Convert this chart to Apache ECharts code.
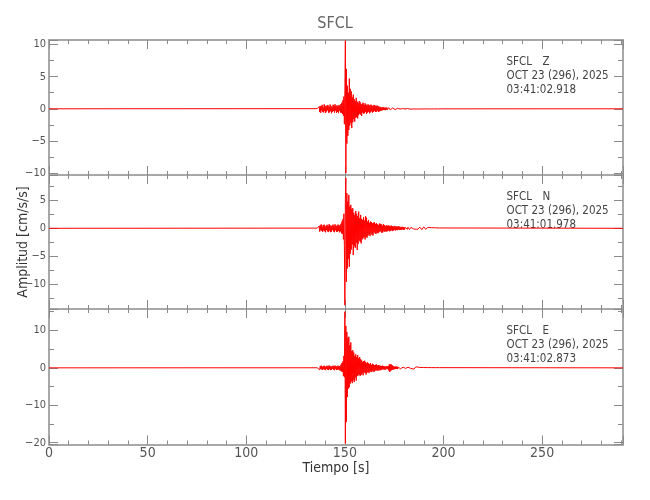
<!DOCTYPE html>
<html><head><meta charset="utf-8">
<script src="https://cdn.jsdelivr.net/npm/echarts@6/dist/echarts.min.js"></script>
<style>html,body{margin:0;padding:0;background:#fff}#c{width:650px;height:500px}</style>
</head><body><div id="c"></div>
<script>
// ---- chart text ----
const titleText = 'SFCL';
const xName = 'Tiempo [s]';
const yName = 'Amplitud [cm/s/s]';
const station = 'SFCL';
const channels = ['Z', 'N', 'E'];
const dateLabel = 'OCT 23 (296), 2025';
const startTimes = ['03:41:02.918', '03:41:01.978', '03:41:02.873'];

// ---- axes ----
const xRange = [0, 291];
const xTickStep = 50;
const yRanges = [[-10.3, 10.7], [-14.48, 9.56], [-20.48, 15.72]];
const yTickSteps = [5, 5, 10];

// ---- sampled traces ----
// event window: starts at t0, one sample every dt seconds
const t0 = 136.0, dt = 0.25;
// late coda: starts at tailT0, one sample every tailDt seconds
const tailT0 = 184.0, tailDt = 1.0;
const quietStart = 0, quietEnd = 291;

const zValues = [
 0.02,-0.04,0.05,-0.12,0.34,-0.51,0.45,-0.63,
 0.38,-0.27,0.61,-0.49,0.22,-0.58,0.69,-0.36,
 0.47,-0.66,0.31,-0.42,0.58,-0.24,0.52,-0.61,
 0.29,-0.55,0.67,-0.38,0.44,-0.7,0.26,-0.47,
 0.63,-0.33,0.5,-0.59,0.71,-0.28,0.4,-0.64,
 0.55,-0.45,0.36,-0.68,0.6,-0.3,0.48,-0.57,
 0.74,-0.62,0.95,-0.8,1.3,-1.1,1.9,-2.4,
 2.8,10.6,-10.0,6.2,-5.4,3.6,-4.2,2.5,
 -3.3,4.7,-2.6,3.1,-2.2,2.7,-3.0,1.8,
 -2.1,2.2,-1.6,1.5,-2.0,1.2,-1.4,1.7,
 -1.3,1.1,-1.5,0.9,-1.0,1.2,-0.8,1.0,
 -0.9,0.7,-1.1,0.8,-0.6,0.95,-0.75,0.6,
 -0.7,0.85,-0.5,0.65,-0.8,0.55,-0.6,0.7,
 -0.45,0.6,-0.7,0.5,-0.55,0.65,-0.4,0.5,
 -0.6,0.45,-0.5,0.6,-0.35,0.55,-0.5,0.4,
 -0.45,0.5,-0.3,0.45,-0.5,0.35,-0.4,0.3,
 -0.3,0.25,-0.28,0.2,-0.24,0.27,-0.18,0.22,
 -0.2,0.16,-0.22,0.19,-0.14,0.2,-0.17,0.13,
 -0.15,0.18,-0.12,0.14,-0.16,0.1,-0.13,0.15,
 -0.11,0.13,-0.09,0.12,-0.1,0.08,-0.12,0.09,
 -0.08,0.1,-0.07,0.09,-0.06,0.08,-0.09,0.07,
 -0.06,0.08,-0.05,0.07,-0.07,0.05,-0.06,0.06,
 -0.05,0.06,-0.04,0.05,-0.06,0.04,-0.05,0.05,
 -0.04,0.05,-0.03,0.04,-0.05,0.03,-0.04,0.03
];
const zTail = [0.04,-0.03,0.03,-0.04,0.02,-0.03,0.03,-0.02,0.02,-0.03,0.02,-0.02,0.01,-0.02,0.02,-0.01];

const nValues = [
 0.03,-0.05,0.06,-0.15,0.41,-0.6,0.52,-0.34,
 0.7,-0.45,0.28,-0.66,0.59,-0.38,0.65,-0.53,
 0.31,-0.72,0.48,-0.27,0.63,-0.57,0.42,-0.68,
 0.74,-0.4,0.55,-0.69,0.36,-0.61,0.5,-0.3,
 0.66,-0.58,0.45,-0.7,0.72,-0.35,0.52,-0.64,
 0.38,-0.6,0.68,-0.46,0.57,-0.72,0.44,-0.55,
 0.8,-0.9,1.2,-1.0,1.6,-2.0,2.6,-3.1,
 -13.8,5.2,9.0,-9.6,6.3,-7.2,4.8,-5.5,
 6.0,-6.9,3.9,-4.6,4.2,-3.8,3.5,-2.9,
 3.6,-4.8,2.8,-3.2,2.4,-3.5,3.1,-2.6,
 2.6,-3.9,2.2,-2.8,3.0,-2.2,1.8,-2.4,
 2.4,-2.7,1.7,-2.0,1.5,-1.8,2.0,-1.6,
 1.4,-2.0,2.2,-1.5,1.9,-1.7,1.2,-1.3,
 1.5,-1.1,1.0,-1.4,1.2,-0.9,1.1,-1.2,
 0.9,-1.3,1.0,-0.7,1.1,-0.9,0.8,-1.0,
 0.95,-0.8,0.7,-0.9,0.6,-0.75,0.85,-0.6,
 0.8,-0.55,0.7,-0.85,0.45,-0.7,0.75,-0.5,
 0.6,-0.65,0.4,-0.5,0.55,-0.6,0.45,-0.5,
 0.5,-0.4,0.45,-0.55,0.35,-0.45,0.5,-0.35,
 0.4,-0.5,0.3,-0.38,0.42,-0.3,0.36,-0.4,
 0.35,-0.3,0.27,-0.33,0.38,-0.22,0.32,-0.28,
 0.27,-0.3,0.18,-0.26,0.28,-0.2,0.23,-0.27,
 0.22,-0.25,0.15,-0.2,0.23,-0.16,0.2,-0.18,
 0.2,-0.15,0.18,-0.21,0.14,-0.19,0.16,-0.13
];
const nTail = [0.18,-0.15,0.14,-0.17,0.2,-0.24,0.26,-0.2,0.16,-0.12,0.11,-0.09,0.08,-0.07,0.06,-0.05];

const eValues = [
 0.02,-0.04,0.06,-0.14,0.36,-0.55,0.47,-0.3,
 0.6,-0.42,0.25,-0.58,0.5,-0.33,0.57,-0.48,
 0.27,-0.62,0.44,-0.24,0.55,-0.5,0.38,-0.6,
 0.64,-0.35,0.49,-0.61,0.31,-0.54,0.45,-0.28,
 0.58,-0.5,0.4,-0.63,0.62,-0.3,0.46,-0.57,
 0.33,-0.55,0.6,-0.41,0.5,-0.64,0.39,-0.7,
 0.85,-0.95,1.3,-1.1,1.7,-2.2,3.2,-2.5,
 15.0,-20.2,11.2,-14.5,9.6,-7.8,8.0,-5.6,
 8.3,-5.2,6.0,-4.2,6.8,-3.6,4.5,-4.1,
 4.7,-3.3,4.1,-3.8,3.2,-2.6,3.6,-3.4,
 2.9,-2.2,3.4,-2.0,2.6,-1.8,2.9,-2.2,
 2.3,-1.9,2.0,-1.5,1.6,-2.0,1.8,-1.2,
 1.9,-1.4,1.6,-1.8,1.2,-1.3,1.5,-1.1,
 1.2,-1.4,1.0,-0.9,1.3,-1.1,0.8,-1.0,
 1.1,-0.8,0.9,-1.1,0.7,-0.85,0.8,-0.6,
 0.9,-0.7,0.6,-0.8,0.75,-0.5,0.65,-0.7,
 0.55,-0.6,0.45,-0.5,0.6,-0.35,0.5,-0.45,
 0.4,-0.5,0.3,-0.45,0.5,-0.3,0.4,-0.35,
 0.5,-0.7,0.9,-1.1,1.0,-0.8,0.9,-0.6,
 0.7,-0.5,0.45,-0.4,0.35,-0.38,0.32,-0.3,
 0.38,-0.28,0.3,-0.35,0.2,-0.28,0.3,-0.18,
 0.25,-0.26,0.18,-0.22,0.27,-0.15,0.2,-0.25,
 0.2,-0.18,0.22,-0.15,0.18,-0.2,0.14,-0.16,
 0.15,-0.12,0.14,-0.16,0.1,-0.13,0.12,-0.1
];
const eTail = [0.3,-0.34,0.28,-0.12,0.1,-0.13,0.08,-0.1,0.07,-0.08,0.06,-0.05,0.06,-0.04,0.05,-0.04];

const traces = [[zValues, zTail], [nValues, nTail], [eValues, eTail]];

// ---- build ----
const FONT = "'Liberation Sans Narrow','DejaVu Sans Condensed','Roboto Condensed',sans-serif";
const FONT_C = "'DejaVu Sans Condensed','Liberation Sans Narrow',sans-serif";
const axisLineStyle = { color: '#a8a8a8', width: 2 };
const tickStyle = { color: '#8a8a8a', width: 1 };
const gridLayout = [{ top: 40, height: 135 }, { top: 175, height: 134 }, { top: 309, height: 135.5 }];
const plotLeft = 49, plotRight = 27;

function toSeriesData(main, tail) {
  const d = [[quietStart, 0]];
  main.forEach((v, i) => d.push([Math.round((t0 + i * dt) * 1000) / 1000, v]));
  tail.forEach((v, i) => d.push([tailT0 + i * tailDt, v]));
  d.push([quietEnd, 0]);
  return d;
}
function fmtNum(v) { return v < 0 ? '\u2212' + Math.abs(v) : String(v); }

const grids = [], xAxes = [], yAxes = [], series = [], graphics = [];
for (let k = 0; k < 3; k++) {
  grids.push({ left: plotLeft, right: plotRight, top: gridLayout[k].top, height: gridLayout[k].height, outerBoundsMode: 'none', containLabel: false });
  ['bottom', 'top'].forEach(pos => {
    const labelled = (k === 2 && pos === 'bottom');
    const ax = {
      type: 'value', gridIndex: k, position: pos, min: xRange[0], max: xRange[1], interval: xTickStep,
      axisLine: { show: true, onZero: false, lineStyle: axisLineStyle },
      axisTick: { show: true, inside: true, length: 9, lineStyle: tickStyle },
      minorTick: { show: true, splitNumber: 5, length: 4, lineStyle: tickStyle },
      splitLine: { show: false }, minorSplitLine: { show: false },
      axisLabel: { show: labelled, margin: 2, fontSize: 14, color: '#555', fontFamily: FONT,
        formatter: v => (Math.abs(v % xTickStep) < 1e-9 ? fmtNum(v) : '') },
      axisPointer: { show: false }
    };
    if (labelled) {
      ax.name = xName; ax.nameLocation = 'middle'; ax.nameGap = 16;
      ax.nameTextStyle = { fontSize: 14, color: '#333', fontFamily: FONT };
    }
    xAxes.push(ax);
  });
  ['left', 'right'].forEach(pos => {
    const step = yTickSteps[k];
    yAxes.push({
      type: 'value', gridIndex: k, position: pos, min: yRanges[k][0], max: yRanges[k][1], splitNumber: 4,
      axisLine: { show: true, onZero: false, lineStyle: axisLineStyle },
      axisTick: { show: true, inside: true, length: 9, lineStyle: tickStyle },
      minorTick: { show: true, splitNumber: 2, length: 5, lineStyle: tickStyle },
      splitLine: { show: false }, minorSplitLine: { show: false },
      axisLabel: { show: pos === 'left', margin: 3, fontSize: 11, color: '#555', fontFamily: FONT,
        showMinLabel: true, showMaxLabel: true,
        formatter: v => { const r = v / step; return Math.abs(r - Math.round(r)) < 1e-6 ? fmtNum(Math.round(r) * step) : ''; } },
      axisPointer: { show: false }
    });
  });
  series.push({
    type: 'line', name: channels[k], xAxisIndex: 2 * k, yAxisIndex: 2 * k,
    data: toSeriesData(traces[k][0], traces[k][1]), showSymbol: false, symbol: 'none', silent: true,
    lineStyle: { color: '#ff0000', width: 1 }, animation: false, sampling: null
  });
  const top = gridLayout[k].top;
  const tStyle = { fontSize: 11.5, fontFamily: FONT_C, fill: '#444', align: 'left', verticalAlign: 'middle' };
  graphics.push({ type: 'text', x: 506.5, y: top + 22, style: Object.assign({ text: station }, tStyle) });
  graphics.push({ type: 'text', x: 542.5, y: top + 22, style: Object.assign({ text: channels[k] }, tStyle) });
  graphics.push({ type: 'text', x: 506.5, y: top + 36, style: Object.assign({ text: dateLabel }, tStyle) });
  graphics.push({ type: 'text', x: 506.5, y: top + 50.2, style: Object.assign({ text: startTimes[k] }, tStyle) });
}
graphics.push({ type: 'text', x: 335, y: 24, style: { text: titleText, fontSize: 16, fontFamily: FONT, fill: '#666', align: 'center', verticalAlign: 'middle' } });
graphics.push({ type: 'text', x: 23.5, y: 242, rotation: Math.PI / 2, style: { text: yName, fontSize: 14, fontFamily: FONT, fill: '#333', align: 'center', verticalAlign: 'middle' } });

const chart = echarts.init(document.getElementById('c'), null, { renderer: 'canvas' });
chart.setOption({
  backgroundColor: '#ffffff',
  animation: false,
  grid: grids, xAxis: xAxes, yAxis: yAxes, series: series, graphic: graphics
});
</script></body></html>
